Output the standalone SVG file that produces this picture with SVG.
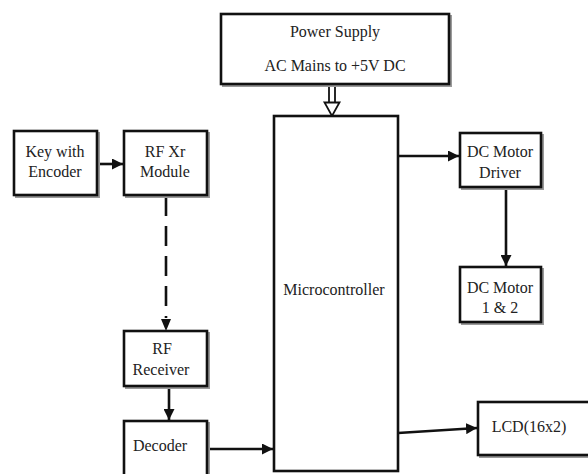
<svg xmlns="http://www.w3.org/2000/svg" width="588" height="474" viewBox="0 0 588 474" font-family="Liberation Serif, serif">
<defs>
<style>
.box{fill:#fff;stroke:#111;stroke-width:2.6}
.sh{fill:none;stroke:#9a9a9a;stroke-width:2}
.t{font-size:16px;fill:#222;text-anchor:middle}
.c{stroke:#111;stroke-width:2.6;fill:none}
</style>
<marker id="ah" markerUnits="userSpaceOnUse" viewBox="0 0 10 10" refX="10" refY="5" markerWidth="11" markerHeight="11" orient="auto">
<path d="M0,0 L10,5 L0,10 z" fill="#111"/>
</marker>
</defs>
<rect width="588" height="474" fill="#fff"/>
<g id="connectors">
<path class="c" d="M97,164 L123,164" marker-end="url(#ah)"/>
<path class="c" d="M166,196 L166,318" stroke-dasharray="20 10"/>
<path d="M161,319 L171,319 L166,331 z" fill="#111"/>
<path class="c" d="M169,386 L169,420" marker-end="url(#ah)"/>
<path class="c" d="M207,449 L273,449" marker-end="url(#ah)"/>
<path class="c" d="M398,156 L459,156" marker-end="url(#ah)"/>
<path class="c" d="M506,187 L506,266" marker-end="url(#ah)"/>
<path class="c" d="M398,433 L477,428" marker-end="url(#ah)"/>
<g id="power-arrow">
<line x1="329" y1="84" x2="329" y2="103" stroke="#111" stroke-width="1.8"/>
<line x1="335" y1="84" x2="335" y2="103" stroke="#111" stroke-width="1.8"/>
<path d="M324.5,102.5 L339.5,102.5 L332,116 z" fill="#fff" stroke="#111" stroke-width="1.8"/>
</g>
</g>
<g id="power">
<rect class="sh" x="223" y="16" width="228" height="70"/>
<rect class="box" x="221" y="14" width="228" height="70"/>
<text class="t" x="335" y="37" font-family="Liberation Serif, serif">Power Supply</text>
<text class="t" x="335" y="71" font-family="Liberation Serif, serif">AC Mains to +5V DC</text>
</g>
<g id="mcu">
<rect class="box" x="274" y="116" width="124" height="355"/>
<text class="t" x="334" y="295" font-family="Liberation Serif, serif">Microcontroller</text>
</g>
<g id="key">
<rect class="sh" x="16" y="133" width="83" height="64"/>
<rect class="box" x="14" y="131" width="83" height="64"/>
<text class="t" x="55" y="157" font-family="Liberation Serif, serif">Key with</text>
<text class="t" x="55" y="177" font-family="Liberation Serif, serif">Encoder</text>
</g>
<g id="rfxr">
<rect class="sh" x="126" y="133" width="83" height="64"/>
<rect class="box" x="124" y="131" width="83" height="64"/>
<text class="t" x="165" y="157" font-family="Liberation Serif, serif">RF Xr</text>
<text class="t" x="165" y="177" font-family="Liberation Serif, serif">Module</text>
</g>
<g id="driver">
<rect class="sh" x="462" y="135" width="81" height="54"/>
<rect class="box" x="460" y="133" width="81" height="54"/>
<text class="t" x="500" y="157" font-family="Liberation Serif, serif">DC Motor</text>
<text class="t" x="500" y="178" font-family="Liberation Serif, serif">Driver</text>
</g>
<g id="motor">
<rect class="sh" x="462" y="269" width="81" height="55"/>
<rect class="box" x="460" y="267" width="81" height="55"/>
<text class="t" x="500" y="293" font-family="Liberation Serif, serif">DC Motor</text>
<text class="t" x="500" y="313" font-family="Liberation Serif, serif">1 &amp; 2</text>
</g>
<g id="rfrx">
<rect class="sh" x="126" y="333" width="83" height="55"/>
<rect class="box" x="124" y="331" width="83" height="55"/>
<text class="t" x="162" y="354" font-family="Liberation Serif, serif">RF</text>
<text class="t" x="161" y="375" font-family="Liberation Serif, serif">Receiver</text>
</g>
<g id="decoder">
<rect class="sh" x="126" y="423" width="83" height="60"/>
<rect class="box" x="124" y="421" width="83" height="60"/>
<text class="t" x="160" y="451" font-family="Liberation Serif, serif">Decoder</text>
</g>
<g id="lcd">
<rect class="sh" x="480" y="404" width="115" height="53"/>
<rect class="box" x="478" y="402" width="115" height="53"/>
<text class="t" x="529" y="432" font-family="Liberation Serif, serif">LCD(16x2)</text>
</g>
</svg>
